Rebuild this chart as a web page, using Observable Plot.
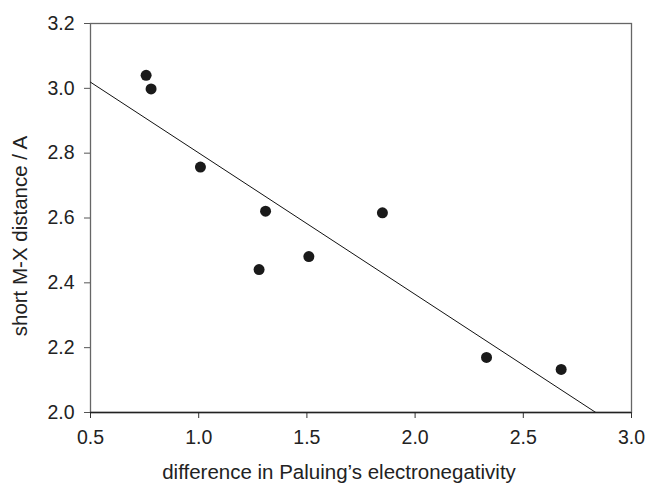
<!DOCTYPE html>
<html>
<head>
<meta charset="utf-8">
<script src="https://cdn.jsdelivr.net/npm/d3@7"></script>
<script src="https://cdn.jsdelivr.net/npm/@observablehq/plot@0.6"></script>
<style>
  html, body { margin: 0; padding: 0; background: #fff; overflow: hidden; }
</style>
</head>
<body>
<div id="chart"></div>
<script>
// Data points
const electronegDiff = [0.757, 0.780, 1.008, 1.309, 1.279, 1.509, 1.849, 2.330, 2.675];
const mxDistance     = [3.040, 2.998, 2.757, 2.621, 2.441, 2.481, 2.616, 2.170, 2.133];
// Fitted regression line end points (x, y)
const fitX = [0.5, 2.835];
const fitY = [3.019, 2.0];
// Axis ticks
const xTicks = [0.5, 1.0, 1.5, 2.0, 2.5, 3.0];
const yTicks = [2.0, 2.2, 2.4, 2.6, 2.8, 3.0, 3.2];
const xLabel = "difference in Paluing\u2019s electronegativity";
const yLabel = "short M-X distance / A";

const points = electronegDiff.map((x, i) => ({x, y: mxDistance[i]}));
const fit = fitX.map((x, i) => ({x, y: fitY[i]}));

const chart = Plot.plot({
  width: 645,
  height: 486,
  marginLeft: 90,
  marginRight: 14,
  marginTop: 23,
  marginBottom: 74,
  style: {fontFamily: "'Liberation Sans', Arial, sans-serif", fontSize: "19px", background: "#fff", overflow: "visible"},
  x: {domain: [0.5, 3.0]},
  y: {domain: [2.0, 3.2]},
  marks: [
    Plot.frame({stroke: "#666", strokeWidth: 1.3}),
    Plot.line(fit, {x: "x", y: "y", stroke: "#111", strokeWidth: 1, clip: true}),
    Plot.dot(points, {x: "x", y: "y", r: 5.5, fill: "#1a1a1a", stroke: "none"}),
    Plot.axisX({ticks: xTicks, tickFormat: d3.format(".1f"), tickSize: 6, tickPadding: 12,
      color: "#222", label: null, stroke: "#333"}),
    Plot.axisY({ticks: yTicks, tickFormat: d3.format(".1f"), tickSize: 6, tickPadding: 10,
      color: "#222", label: null, stroke: "#555"}),
    Plot.ruleY([2.0], {stroke: "#222", strokeWidth: 1.3}),
    Plot.text([xLabel], {frameAnchor: "bottom", textAnchor: "middle", lineAnchor: "middle", dy: 60, dx: -22, fill: "#222", text: d => d}),
    Plot.text([yLabel], {frameAnchor: "left", textAnchor: "middle", lineAnchor: "middle", dx: -70, dy: 18, rotate: -90, fill: "#222", text: d => d})
  ]
});
const svg = d3.select(chart);
svg.selectAll("text").style("font-size", "19.5px").style("font-family", "'Liberation Sans', Arial, sans-serif");
svg.selectAll("text").filter(function() { return this.textContent === xLabel || this.textContent === yLabel; })
  .style("font-size", "20.5px");
document.getElementById("chart").appendChild(chart);
</script>
</body>
</html>
